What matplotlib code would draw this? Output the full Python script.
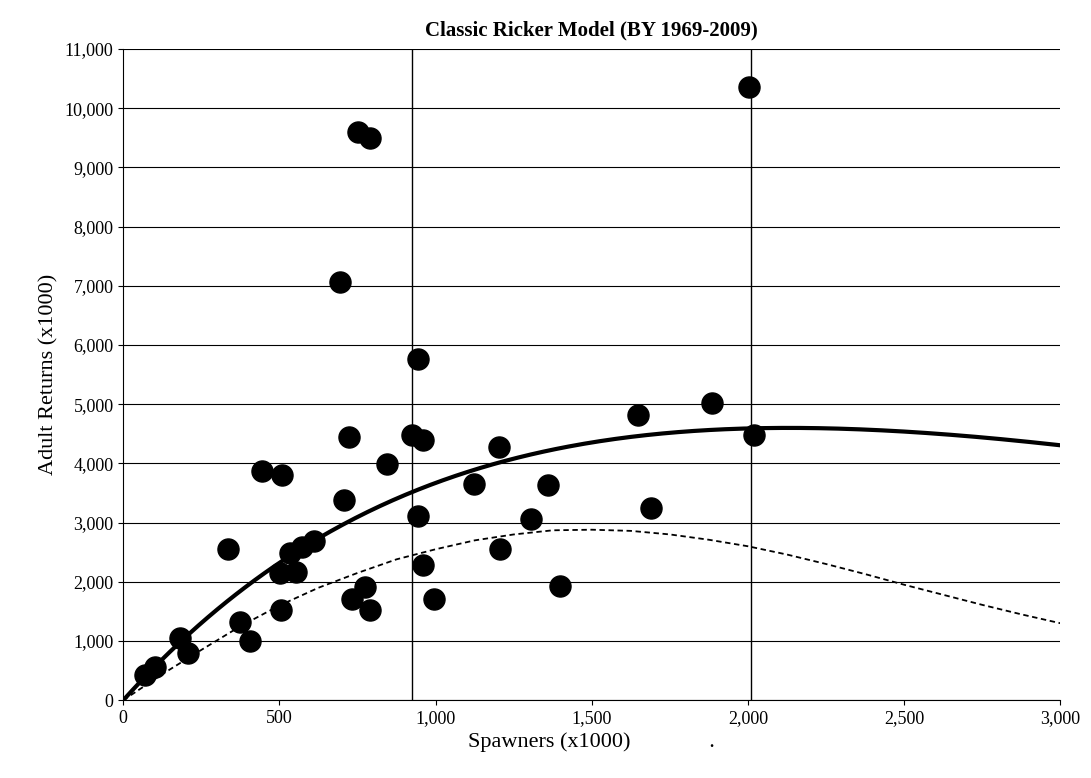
import numpy as np
import matplotlib.pyplot as plt

plt.rcParams['font.family'] = ['Liberation Serif']

# observed brood years
spawners = [70, 102, 182, 208, 375, 407, 336, 445, 509, 503, 506, 535, 554, 573, 612,
            708, 724, 695, 752, 791, 733, 775, 791, 845, 925, 944, 960, 944, 960, 996,
            1124, 1204, 1207, 1306, 1361, 1399, 1649, 1690, 1886, 2004, 2020]
returns = [430, 558, 1048, 794, 1318, 997, 2550, 3869, 3802, 2146, 1521, 2484, 2163, 2585, 2687,
           3380, 4444, 7063, 9598, 9496, 1707, 1909, 1521, 3988, 4478, 5762, 4393, 3109, 2281, 1707,
           3650, 4275, 2551, 3058, 3633, 1926, 4816, 3244, 5018, 10357, 4478]

# Ricker fit parameters (solid line)
ricker_a = 5.87
ricker_b = 1 / 2130.0

# dashed curve
dash_s = [0, 125, 250, 375, 500, 625, 750, 875, 1000, 1125, 1250, 1375, 1500, 1625, 1750,
          1875, 2000, 2125, 2250, 2375, 2500, 2625, 2750, 2875, 3000]
dash_r = [0, 440, 850, 1250, 1600, 1900, 2150, 2380, 2550, 2700, 2800, 2870, 2880, 2860, 2800,
          2710, 2600, 2460, 2300, 2130, 1950, 1780, 1610, 1450, 1300]

vlines = [925, 2010]

fig = plt.figure(figsize=(10.91, 7.78), dpi=100)
ax = fig.add_axes([0.113, 0.1, 0.859, 0.837])

s = np.linspace(0, 3000, 300)
ax.plot(s, ricker_a * s * np.exp(-ricker_b * s), color='black', lw=3, zorder=3)
ax.plot(dash_s, dash_r, color='black', lw=1.3, ls=(0, (3, 2)), zorder=3)
for v in vlines:
    ax.axvline(v, color='black', lw=1, zorder=2)
ax.scatter(spawners, returns, s=230, color='black', zorder=4)

ax.set_xlim(0, 3000)
ax.set_ylim(0, 11000)
ax.set_xticks(range(0, 3001, 500))
ax.set_yticks(range(0, 11001, 1000))
ax.xaxis.set_major_formatter(plt.FuncFormatter(lambda v, p: '{:,.0f}'.format(v)))
ax.yaxis.set_major_formatter(plt.FuncFormatter(lambda v, p: '{:,.0f}'.format(v)))
ax.grid(axis='y', color='black', lw=0.8)
ax.set_axisbelow(True)
ax.tick_params(labelsize=13, direction='out')
for sp in ['top', 'right']:
    ax.spines[sp].set_visible(False)

ax.set_title('Classic Ricker Model (BY 1969-2009)', fontsize=15, fontweight='bold', pad=10)
ax.set_xlabel('Spawners (x1000)              .', fontsize=16)
ax.set_ylabel('Adult Returns (x1000)', fontsize=16)

fig.savefig('out.png')
